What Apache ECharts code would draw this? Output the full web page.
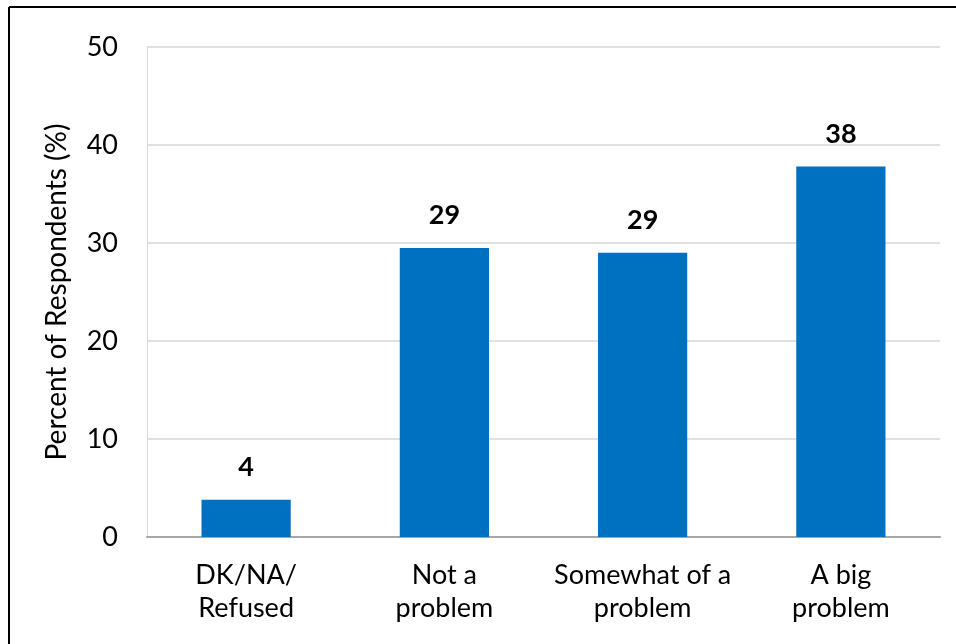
<!DOCTYPE html>
<html>
<head>
<meta charset="utf-8">
<script src="https://cdn.jsdelivr.net/npm/echarts@6/dist/echarts.min.js"></script>
<style>html,body{margin:0;padding:0;background:#fff}#c{width:956px;height:644px}</style>
</head>
<body>
<div id="c"></div>
<script>
const categories = ['DK/NA/\nRefused', 'Not a\nproblem', 'Somewhat of a\nproblem', 'A big\nproblem'];
const values = [3.8, 29.5, 29.0, 37.8];
const labels = ['4', '29', '29', '38'];
const yTicks = [0, 10, 20, 30, 40, 50];

const chart = echarts.init(document.getElementById('c'));
chart.setOption({
  animation: false,
  backgroundColor: '#fff',
  textStyle: { fontFamily: 'Lato' },
  graphic: [
    { type: 'line', shape: { x1: 9, y1: 7, x2: 956, y2: 7 }, style: { stroke: '#000', lineWidth: 2 } },
    { type: 'line', shape: { x1: 9, y1: 7, x2: 9, y2: 644 }, style: { stroke: '#000', lineWidth: 2 } }
  ],
  grid: { left: 147, right: 16, top: 47, bottom: 107 },
  xAxis: {
    type: 'category',
    data: categories,
    axisLine: { lineStyle: { color: '#a6a6a6', width: 2 } },
    axisTick: { show: false },
    axisLabel: { color: '#000', fontSize: 27, fontFamily: 'Lato', lineHeight: 33, margin: 22, interval: 0, hideOverlap: false }
  },
  yAxis: {
    type: 'value',
    min: yTicks[0],
    max: yTicks[yTicks.length - 1],
    interval: 10,
    name: 'Percent of Respondents (%)',
    nameLocation: 'middle',
    nameGap: 76,
    nameRotate: 90,
    nameTextStyle: { color: '#000', fontSize: 28, fontFamily: 'Lato' },
    axisLine: { show: true, lineStyle: { color: '#d9d9d9', width: 1 } },
    axisTick: { show: false },
    axisLabel: { color: '#000', fontSize: 27, fontFamily: 'Lato', margin: 29 },
    splitLine: { lineStyle: { color: '#e0e0e0', width: 2 } }
  },
  series: [{
    type: 'bar',
    data: values,
    barWidth: '45%',
    itemStyle: { color: '#0070C0' },
    label: {
      show: true,
      position: 'top',
      distance: 19,
      color: '#000',
      fontSize: 27,
      fontWeight: 'bold',
      fontFamily: 'Lato',
      formatter: p => labels[p.dataIndex]
    }
  }]
});
</script>
</body>
</html>
